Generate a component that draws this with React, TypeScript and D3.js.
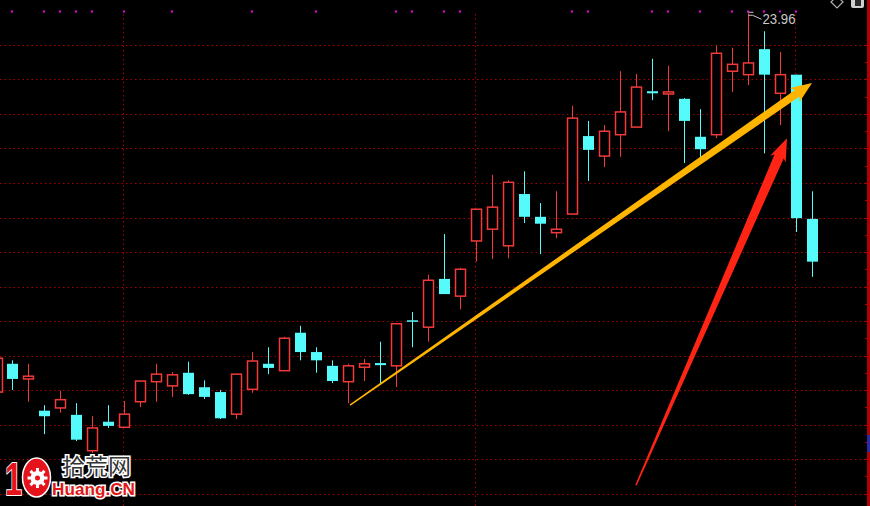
import React from "react";
import * as d3 from "d3";

// ---- data ----
const OPEN = [18.47, 18.88, 18.66, 18.2, 18.24, 18.14, 17.62, 18.04, 17.96, 18.33,
  18.62, 18.56, 18.75, 18.54, 18.47, 18.15, 18.51, 18.88, 18.78, 19.33,
  19.05, 18.85, 18.62, 18.83, 18.89, 18.85, 19.51, 19.41, 20.11, 19.86,
  20.66, 20.83, 20.59, 21.34, 21.01, 20.78, 21.05, 22.18, 21.89, 22.2,
  22.31, 22.83, 22.79, 22.72, 22.17, 22.2, 23.12, 23.07, 23.44, 22.8,
  23.07, 20.98];
const CLOSE = [18.96, 18.66, 18.7, 18.12, 18.36, 17.78, 17.95, 17.98, 18.15, 18.63,
  18.73, 18.72, 18.44, 18.4, 18.09, 18.73, 18.92, 18.82, 19.25, 19.05,
  18.93, 18.63, 18.85, 18.88, 18.86, 19.46, 19.5, 20.09, 19.89, 20.25,
  21.12, 21.15, 21.51, 21.01, 20.91, 20.83, 22.44, 21.98, 22.25, 22.53,
  22.89, 22.8, 22.82, 22.4, 21.99, 23.38, 23.22, 23.24, 23.07, 23.07,
  20.99, 20.36];
const HIGH = [19.01, 18.93, 18.88, 18.28, 18.49, 18.31, 18.12, 18.28, 18.34, 18.63,
  18.88, 18.76, 18.91, 18.64, 18.5, 18.73, 19.05, 19.12, 19.27, 19.43,
  19.12, 18.93, 18.88, 18.95, 19.2, 19.46, 19.63, 20.17, 20.76, 20.27,
  21.12, 21.62, 21.54, 21.67, 21.21, 21.38, 22.62, 22.4, 22.34, 23.12,
  23.08, 23.3, 23.2, 22.73, 22.57, 23.49, 23.46, 23.96, 23.7, 23.4,
  23.07, 21.38];
const LOW = [18.43, 18.5, 18.33, 17.86, 18.17, 17.76, 17.59, 17.95, 17.95, 18.25,
  18.33, 18.4, 18.43, 18.37, 18.08, 18.08, 18.46, 18.73, 18.78, 18.93,
  18.75, 18.6, 18.31, 18.63, 18.6, 18.54, 19.12, 19.2, 19.89, 19.67,
  20.36, 20.4, 20.41, 20.92, 20.47, 20.7, 21.05, 21.53, 21.73, 21.88,
  22.31, 22.7, 22.25, 21.79, 21.79, 22.15, 22.82, 22.92, 21.93, 22.34,
  20.79, 20.14];
const MARK_IDX = [1, 3, 4, 5, 6, 8, 11, 16, 20, 25, 26, 28, 29, 36, 37, 41, 42, 44, 46, 47, 48, 49, 50];
const VLINE_IDX = [8, 30, 50];
const GRID_PRICES = [23.5, 23.0, 22.5, 22.0, 21.5, 21.0, 20.5, 20.0, 19.5, 19.0, 18.5, 18.0, 17.5, 17.0];
const PEAK_IDX = 47;
const PEAK_LABEL = "23.96";
// arrows: [candle index, price]
const YELLOW_ARROW = [[22.12, 18.28], [51.03, 22.95]];
const RED_ARROW = [[40.02, 17.12], [49.47, 22.15]];

const W = 870;
const H = 506;
const RED = "#f23a3a";
const CYAN = "#55fbfb";

function arrowPath(p0: number[], p1: number[], w0: number, w1: number, L: number, HW: number) {
  const dx = p1[0] - p0[0];
  const dy = p1[1] - p0[1];
  const len = Math.hypot(dx, dy);
  const ux = dx / len, uy = dy / len;
  const nx = -uy, ny = ux;
  const bx = p1[0] - ux * L, by = p1[1] - uy * L;
  const wx = bx - ux * 3, wy = by - uy * 3;
  const pts = [
    [p0[0] + nx * w0 / 2, p0[1] + ny * w0 / 2],
    [bx + nx * w1 / 2, by + ny * w1 / 2],
    [wx + nx * HW, wy + ny * HW],
    [p1[0], p1[1]],
    [wx - nx * HW, wy - ny * HW],
    [bx - nx * w1 / 2, by - ny * w1 / 2],
    [p0[0] - nx * w0 / 2, p0[1] - ny * w0 / 2],
  ];
  return "M" + pts.map((p) => p[0].toFixed(1) + "," + p[1].toFixed(1)).join("L") + "Z";
}

export default function App() {
  const x = d3.scaleLinear().domain([0, 51]).range([-3.5, 811.5]);
  const y = d3.scaleLinear().domain([17, 23.5]).range([493.5, 45]);
  const idx = d3.range(OPEN.length);
  const halfTicks = d3.range(17, 23.75, 0.25);

  const px = (p: number[]) => [x(p[0]), y(p[1])];

  const peakX = Math.round(x(PEAK_IDX)) + 0.5;
  const peakY = y(HIGH[PEAK_IDX]);

  const gearTeeth = d3.range(8).map((k) => (k * 360) / 8);

  return (
    <svg width={W} height={H} style={{ position: "absolute", left: 0, top: 0, display: "block", background: "#000" }}
      fontFamily="'Liberation Sans', Arial, sans-serif">
      <rect x={0} y={0} width={W} height={H} fill="#000" />
      {GRID_PRICES.map((p) => (
        <line key={"g" + p} x1={0} x2={866} y1={Math.round(y(p)) + 0.5} y2={Math.round(y(p)) + 0.5}
          stroke="#a80000" strokeWidth={1} strokeDasharray="1.5 3" />
      ))}
      {VLINE_IDX.map((i) => (
        <line key={"v" + i} x1={Math.round(x(i)) - 0.5} x2={Math.round(x(i)) - 0.5} y1={14} y2={H}
          stroke="#a80000" strokeWidth={1} strokeDasharray="1.5 3" />
      ))}
      {MARK_IDX.map((i) => (
        <rect key={"m" + i} x={Math.round(x(i)) - 1} y={10.5} width={2} height={2} fill="#f000f0" />
      ))}
      {idx.map((i) => {
        const up = CLOSE[i] >= OPEN[i];
        const cx = Math.round(x(i)) + 0.5;
        const col = up ? RED : CYAN;
        const top = y(Math.max(OPEN[i], CLOSE[i]));
        const bot = y(Math.min(OPEN[i], CLOSE[i]));
        return (
          <g key={"c" + i}>
            <line x1={cx} x2={cx} y1={y(HIGH[i])} y2={y(LOW[i])} stroke={col} strokeWidth={1} />
            {up ? (
              <rect x={cx - 5} y={top} width={10} height={Math.max(1.5, bot - top)} fill="#000" stroke={col} strokeWidth={1.5} />
            ) : (
              <rect x={cx - 5.5} y={top} width={11} height={Math.max(1.5, bot - top)} fill={col} />
            )}
          </g>
        );
      })}
      <g stroke="#c8c8c8" strokeWidth={1} fill="none">
        <line x1={peakX} x2={peakX + 5} y1={peakY - 1} y2={peakY - 1} />
        <line x1={peakX} x2={peakX + 4} y1={peakY + 2} y2={peakY + 2} />
        <line x1={peakX + 4} x2={peakX + 13} y1={peakY + 2} y2={peakY + 6} />
      </g>
      <text x={peakX + 14} y={peakY + 11} fill="#c8c8c8" fontSize={14} textLength={33} lengthAdjust="spacingAndGlyphs">{PEAK_LABEL}</text>
      <path d={arrowPath(px(YELLOW_ARROW[0]), px(YELLOW_ARROW[1]), 1.5, 8, 18, 8.5)} fill="#ffb400" />
      <path d={arrowPath(px(RED_ARROW[0]), px(RED_ARROW[1]), 1.5, 10, 20, 8.5)} fill="#ff2414" />
      <line x1={868.5} x2={868.5} y1={0} y2={H} stroke="#b00000" strokeWidth={3} />
      {halfTicks.map((p) => (
        <line key={"t" + p} x1={865} x2={867} y1={Math.round(y(p)) + 0.5} y2={Math.round(y(p)) + 0.5} stroke="#b00000" strokeWidth={1} />
      ))}
      <rect x={867} y={435} width={3} height={17} fill="#2a2aa8" />
      <path d="M837,-4 L843,2 L837,8 L831,2 Z" fill="none" stroke="#b0b0b0" strokeWidth={1.2} />
      <rect x={851} y={-3} width={13} height={11} rx={2} fill="#cfcfcf" />
      <rect x={855} y={-1} width={6} height={7} fill="#2c2c2c" />
      <g>
        <text x={5} y={495} fontSize={46} fontWeight="bold" fill="#e5141c" stroke="#fff" strokeWidth={2} paintOrder="stroke"
          textLength={17} lengthAdjust="spacingAndGlyphs">1</text>
        <ellipse cx={36.5} cy={477.5} rx={14} ry={19.5} fill="#e5141c" stroke="#fff" strokeWidth={1.5} />
        {gearTeeth.map((a) => (
          <rect key={"gt" + a} x={36.5} y={476.5} width={11} height={3} fill="#fff"
            transform={`rotate(${a} 37.5 478)`} />
        ))}
        <circle cx={37.5} cy={478} r={7} fill="#fff" />
        <circle cx={37.5} cy={478} r={2.5} fill="#e5141c" />
        <text x={62} y={474} fontSize={22} fill="#333" stroke="#fff" strokeWidth={3} paintOrder="stroke"
          fontFamily="'Noto Sans CJK SC', sans-serif" textLength={69} lengthAdjust="spacingAndGlyphs">拾荒网</text>
        <text x={52} y={495} fontSize={17} fontWeight="bold" fill="#e01818" stroke="#fff" strokeWidth={3} paintOrder="stroke"
          textLength={83} lengthAdjust="spacingAndGlyphs">Huang.CN</text>
      </g>
    </svg>
  );
}
